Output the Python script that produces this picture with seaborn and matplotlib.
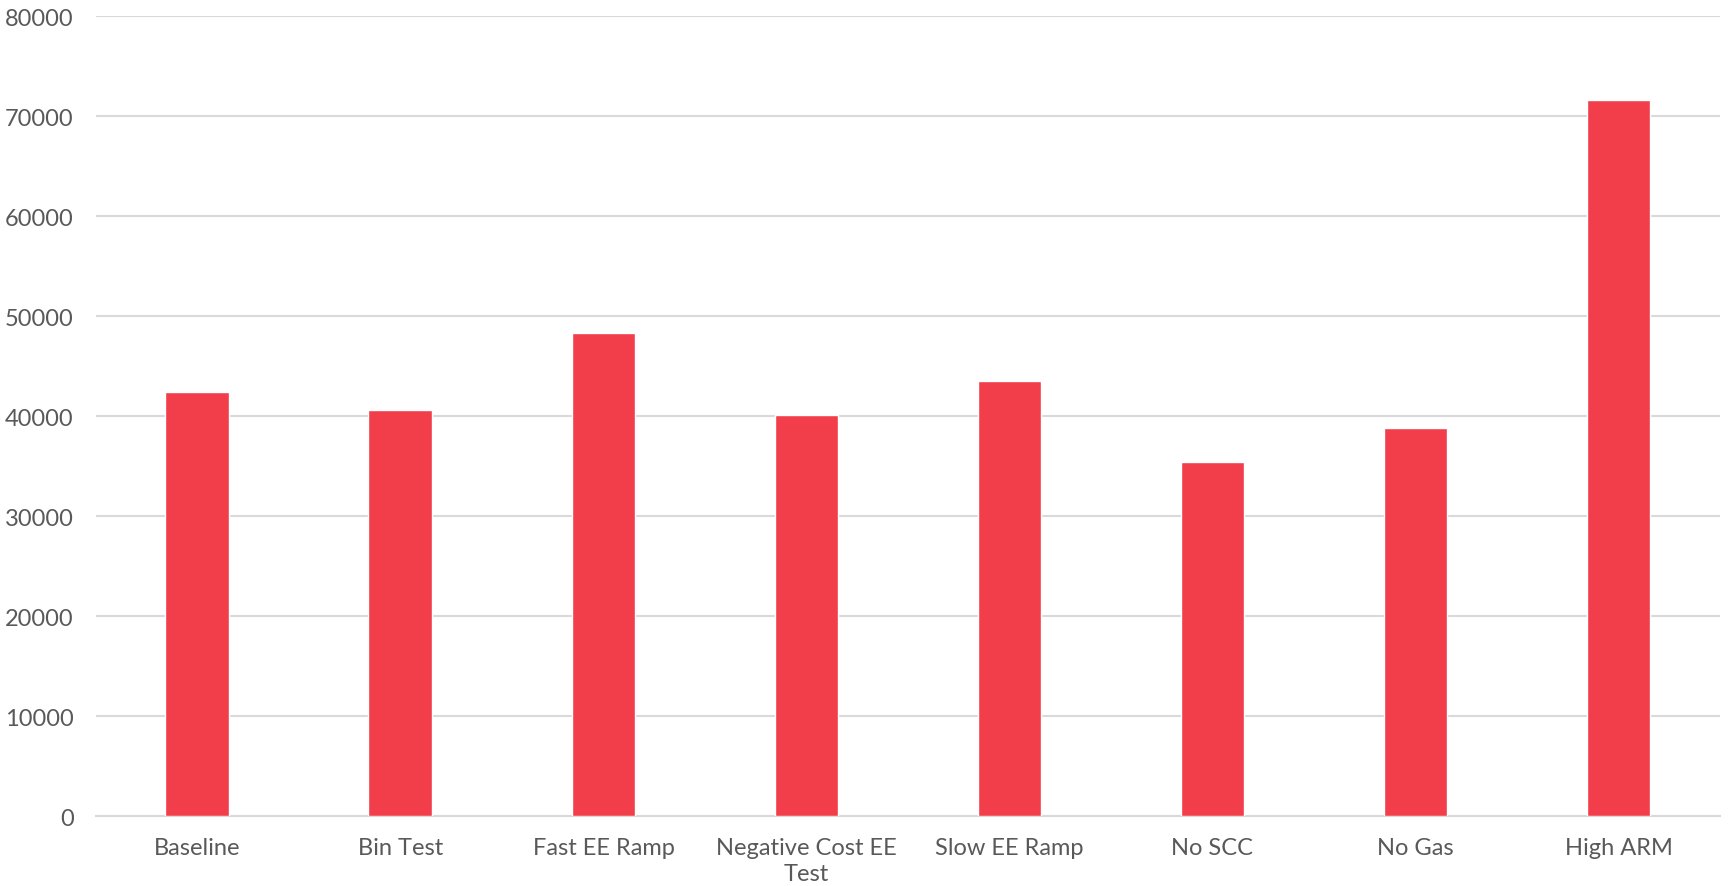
import matplotlib
matplotlib.use("Agg")
import matplotlib.pyplot as plt
import seaborn as sns
import pandas as pd

# values
scenarios = ["Baseline", "Bin Test", "Fast EE Ramp", "Negative Cost EE\nTest",
             "Slow EE Ramp", "No SCC", "No Gas", "High ARM"]
values = [42450, 40620, 48300, 40080, 43480, 35420, 38780, 71580]
y_ticks = [0, 10000, 20000, 30000, 40000, 50000, 60000, 70000, 80000]

bar_color = "#F23D4A"
grid_color = "#D9D9D9"
text_color = "#595959"

sns.set_theme(style="white")
plt.rcParams["font.family"] = ["Lato", "DejaVu Sans"]

df = pd.DataFrame({"scenario": scenarios, "value": values})

fig = plt.figure(figsize=(17.29, 8.87), dpi=100)
ax = fig.add_axes([0.0555, 0.0789, 0.9393, 0.9019])

sns.barplot(data=df, x="scenario", y="value", color=bar_color,
            width=0.315, saturation=1, ax=ax, zorder=3)

ax.set_ylim(0, 80000)
ax.set_xlim(-0.5, len(scenarios) - 0.5)
ax.set_yticks(y_ticks)
ax.set_yticklabels([str(t) for t in y_ticks])
ax.yaxis.grid(True, color=grid_color, linewidth=1.5, zorder=0)
ax.set_axisbelow(True)

for s in ["top", "right", "left"]:
    ax.spines[s].set_visible(False)
ax.spines["bottom"].set_color(grid_color)
ax.spines["bottom"].set_linewidth(1.5)

ax.tick_params(axis="y", length=0, pad=16, labelsize=17, labelcolor=text_color)
ax.tick_params(axis="x", length=0, pad=15, labelsize=17, labelcolor=text_color)
for lbl in ax.get_xticklabels():
    lbl.set_linespacing(1.3)

ax.set_xlabel("")
ax.set_ylabel("")

fig.savefig("out.png", dpi=100, facecolor="white")
